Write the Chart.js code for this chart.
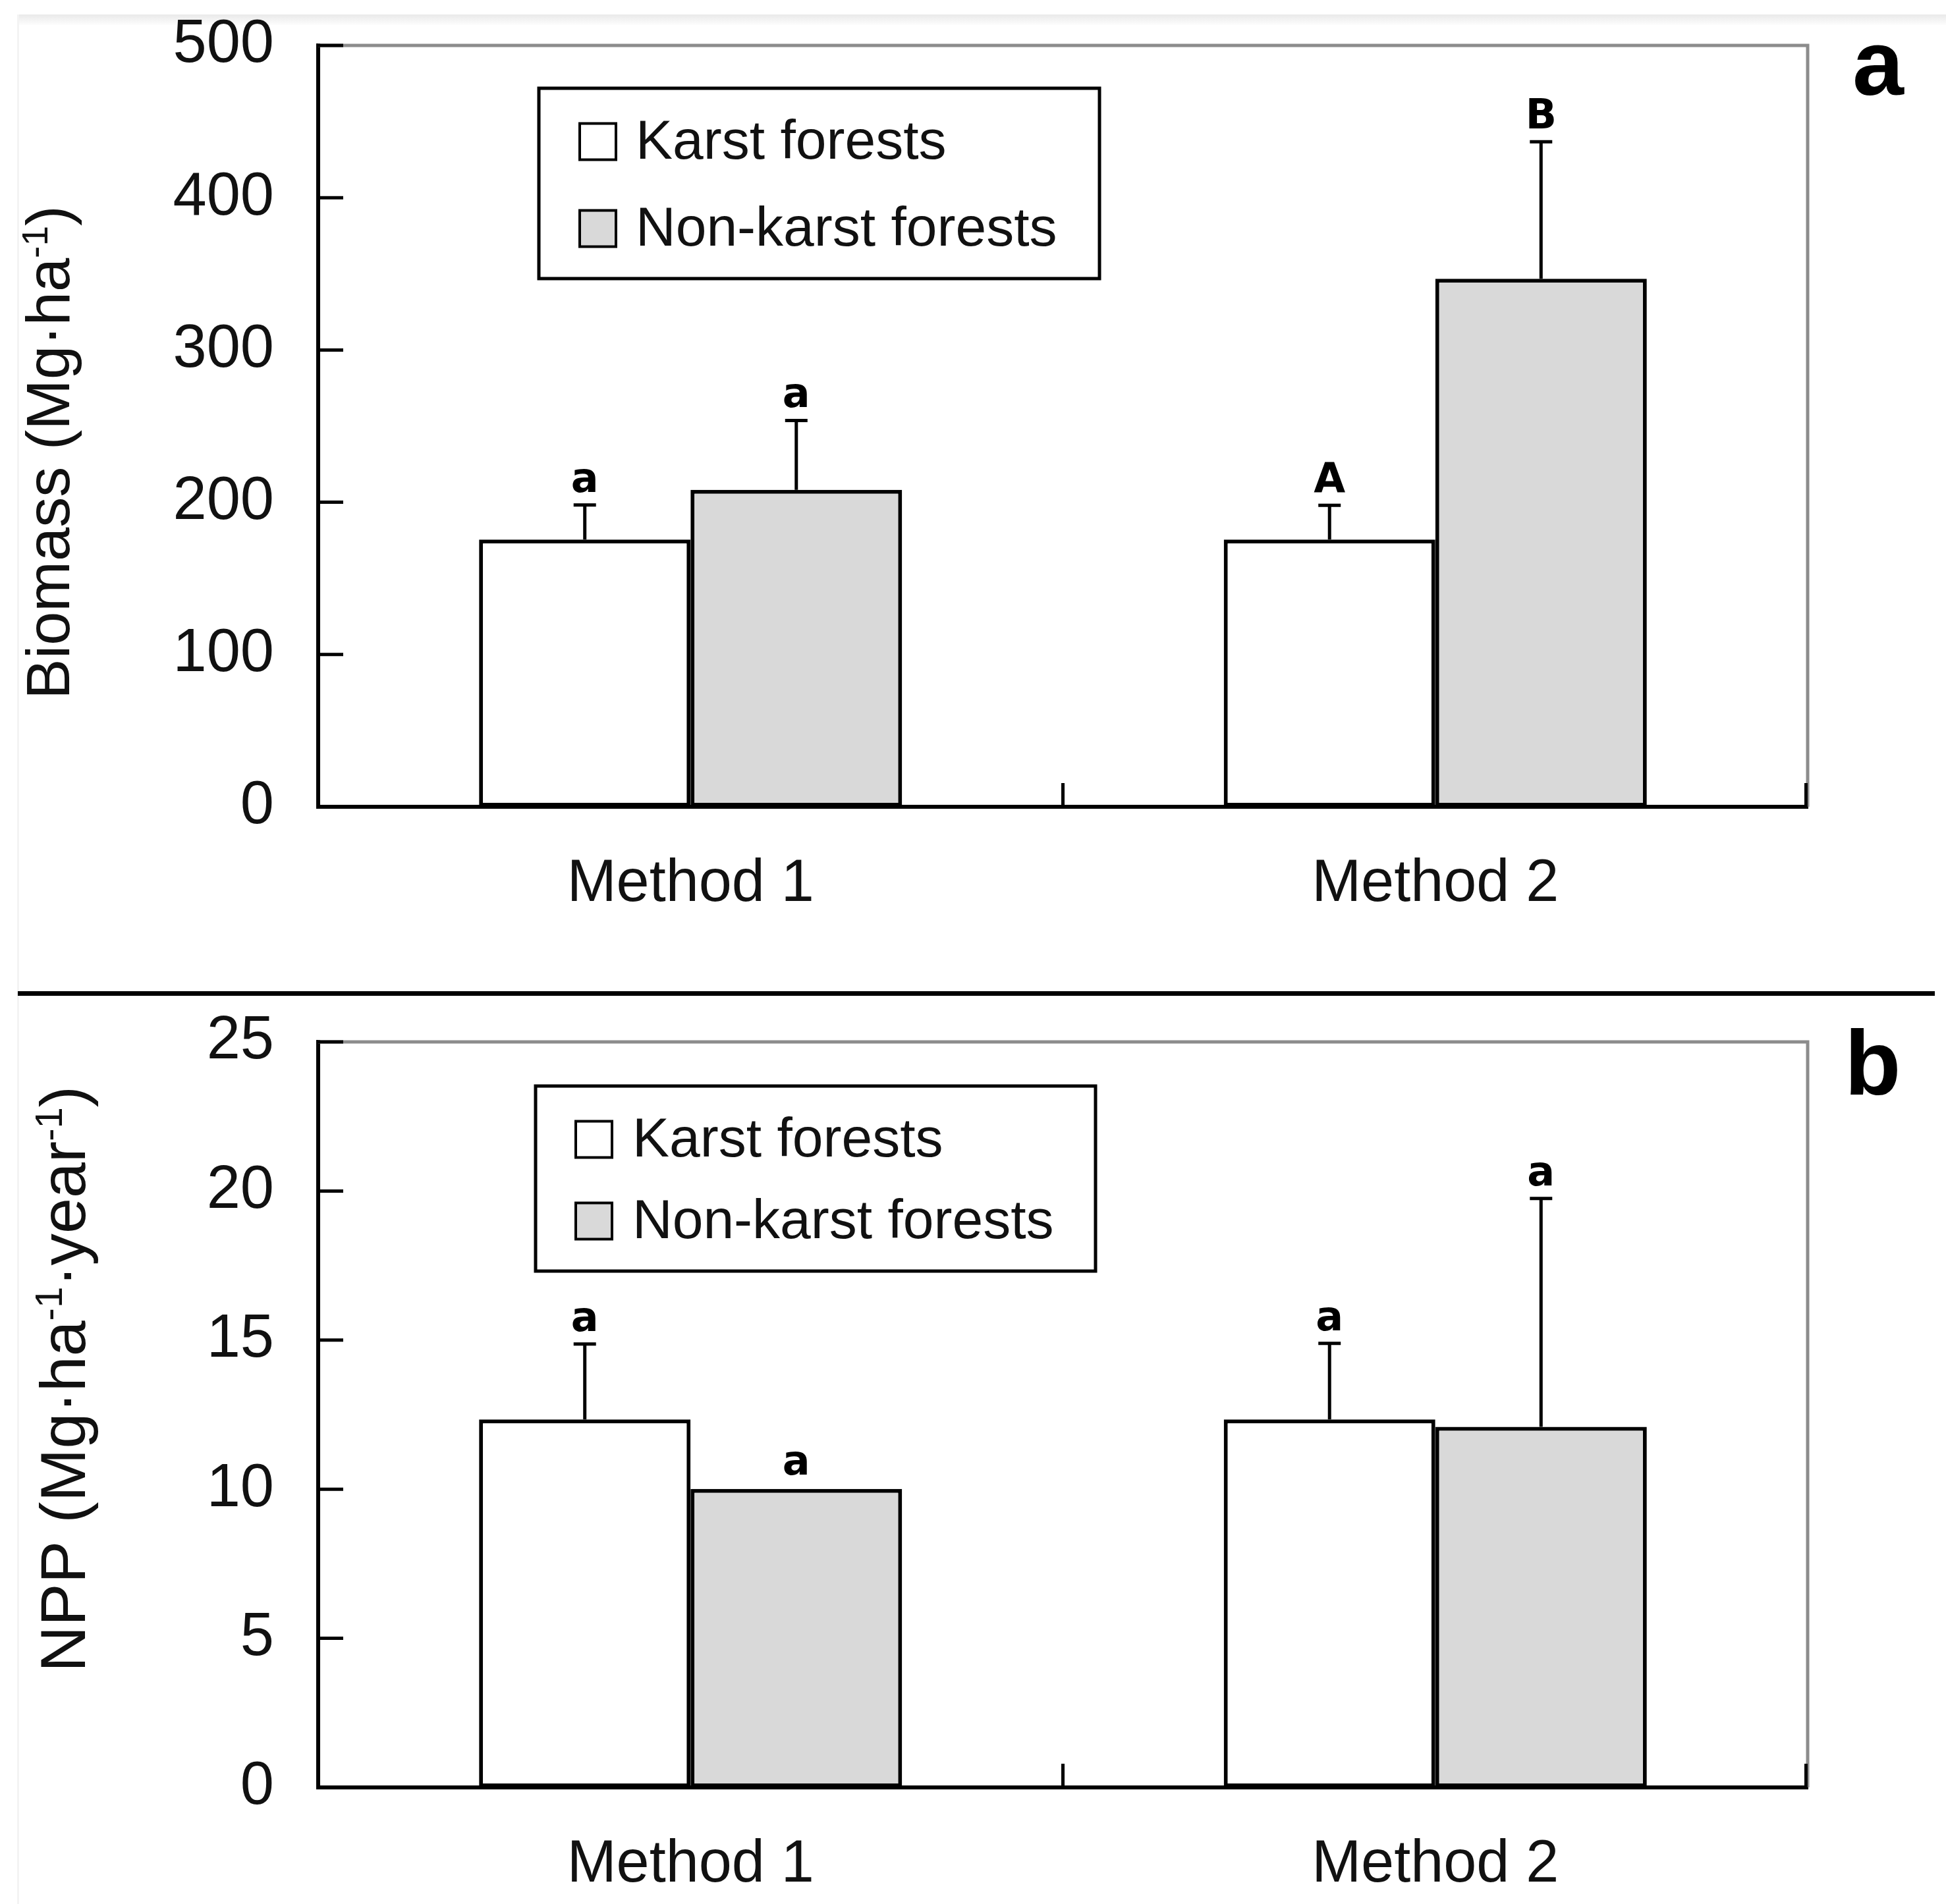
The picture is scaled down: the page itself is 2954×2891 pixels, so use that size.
<!DOCTYPE html>
<html><head><meta charset="utf-8">
<script src="https://cdn.jsdelivr.net/npm/chart.js@4.4.1/dist/chart.umd.min.js"></script>
<style>
html,body{margin:0;padding:0;background:#fff;width:2954px;height:2891px;overflow:hidden;position:relative}
canvas{position:absolute;left:0}
#ca{top:0}
#cb{top:1520px}
.sep{position:absolute;left:27px;top:1505px;width:2910px;height:7px;background:#000}
.shade{position:absolute;left:26px;top:22px;width:2928px;height:16px;background:linear-gradient(#e9e9e9,#fdfdfd)}
.lshade{position:absolute;left:26px;top:22px;width:3px;height:2869px;background:#f3f3f3}
</style></head><body>
<div class="shade"></div><div class="lshade"></div>
<canvas id="ca" width="2954" height="1500" style="width:2954px;height:1500px"></canvas>
<div class="sep"></div>
<canvas id="cb" width="2954" height="1371" style="width:2954px;height:1371px"></canvas>
<script>
// ---------- data ----------
const categories = ['Method 1', 'Method 2'];
const seriesNames = ['Karst forests', 'Non-karst forests'];

const biomassKarst = [175.5, 175.5];
const biomassKarstSD = [22.7, 22.5];
const biomassNonKarst = [208.2, 346.8];
const biomassNonKarstSD = [45.5, 89.9];
const biomassKarstLetters = ['a', 'A'];
const biomassNonKarstLetters = ['a', 'B'];
const biomassTicks = [0, 100, 200, 300, 400, 500];
const biomassTitle = [['Biomass (Mg\u00B7ha', 0], ['-1', 1], [')', 0]];

const nppKarst = [12.34, 12.34];
const nppKarstSD = [2.53, 2.55];
const nppNonKarst = [10.01, 12.09];
const nppNonKarstSD = [0, 7.66];
const nppKarstLetters = ['a', 'a'];
const nppNonKarstLetters = ['a', 'a'];
const nppTicks = [0, 5, 10, 15, 20, 25];
const nppTitle = [['NPP (Mg\u00B7ha', 0], ['-1', 1], ['\u00B7year', 0], ['-1', 1], [')', 0]];

// ---------- plugins ----------
const errorBarPlugin = {
  id: 'errorBars',
  afterDatasetsDraw(chart, args, o) {
    const ctx = chart.ctx, ys = chart.scales.y;
    chart.data.datasets.forEach((ds, i) => {
      chart.getDatasetMeta(i).data.forEach((bar, j) => {
        const sd = ds.sd[j] || 0;
        const yTop = ys.getPixelForValue(ds.data[j] + sd);
        ctx.save();
        ctx.strokeStyle = '#000';
        ctx.lineWidth = o.lineWidth;
        if (sd > 0) {
          ctx.beginPath();
          ctx.moveTo(bar.x, bar.y); ctx.lineTo(bar.x, yTop);
          ctx.moveTo(bar.x - o.cap / 2, yTop); ctx.lineTo(bar.x + o.cap / 2, yTop);
          ctx.stroke();
        }
        ctx.font = o.font; ctx.fillStyle = '#000';
        ctx.textAlign = 'center'; ctx.textBaseline = 'alphabetic';
        ctx.fillText(ds.letters[j], bar.x, yTop - (sd > 0 ? o.gap : o.gapNoBar));
        ctx.restore();
      });
    });
  }
};

const framePlugin = {
  id: 'frame',
  afterDatasetsDraw(chart, args, o) {
    const ctx = chart.ctx, a = chart.chartArea, x = chart.scales.x, y = chart.scales.y;
    ctx.save();
    ctx.strokeStyle = o.edgeColor; ctx.lineWidth = o.edgeWidth;
    ctx.beginPath();
    ctx.moveTo(a.left, a.top); ctx.lineTo(a.right, a.top); ctx.lineTo(a.right, a.bottom);
    ctx.stroke();
    ctx.strokeStyle = '#000'; ctx.lineWidth = o.tickWidth;
    ctx.beginPath();
    y.ticks.forEach(t => {
      const py = y.getPixelForValue(t.value);
      ctx.moveTo(a.left, py); ctx.lineTo(a.left + o.tickLen, py);
    });
    for (let k = 0; k < categories.length - 1; k++) {
      const px = (x.getPixelForValue(k) + x.getPixelForValue(k + 1)) / 2;
      ctx.moveTo(px, a.bottom); ctx.lineTo(px, a.bottom - o.xTickLen);
    }
    ctx.moveTo(a.right - o.tickWidth / 2, a.bottom); ctx.lineTo(a.right - o.tickWidth / 2, a.bottom - o.xTickLen);
    ctx.stroke();
    ctx.restore();
  }
};

const boxLegendPlugin = {
  id: 'boxLegend',
  afterDraw(chart, args, o) {
    const ctx = chart.ctx;
    ctx.save();
    ctx.strokeStyle = '#000'; ctx.lineWidth = o.borderWidth;
    ctx.strokeRect(o.left, o.top, o.right - o.left, o.bottom - o.top);
    ctx.font = o.font;
    chart.data.datasets.forEach((ds, i) => {
      const cy = o.rows[i];
      const sy = cy + o.boxShift - o.box / 2;
      ctx.fillStyle = ds.backgroundColor;
      ctx.fillRect(o.boxX, sy, o.box, o.box);
      ctx.lineWidth = o.boxBorder; ctx.strokeStyle = '#000';
      ctx.strokeRect(o.boxX, sy, o.box, o.box);
      ctx.fillStyle = o.color; ctx.textAlign = 'left'; ctx.textBaseline = 'alphabetic';
      ctx.fillText(ds.label, o.textX, cy + o.size * 0.358);
    });
    ctx.restore();
  }
};

const panelLetterPlugin = {
  id: 'panelLetter',
  afterDraw(chart, args, o) {
    const ctx = chart.ctx;
    ctx.save();
    ctx.font = o.font; ctx.fillStyle = '#000';
    ctx.textAlign = 'left'; ctx.textBaseline = 'alphabetic';
    ctx.fillText(o.text, o.x, o.y);
    ctx.restore();
  }
};

const yTitlePlugin = {
  id: 'yTitle',
  afterDraw(chart, args, o) {
    const ctx = chart.ctx;
    const fontFor = s => (s ? Math.round(o.size * 0.6) : o.size) + 'px ' + o.family;
    ctx.save();
    let total = 0;
    o.parts.forEach(p => { ctx.font = fontFor(p[1]); total += ctx.measureText(p[0]).width; });
    ctx.translate(o.x, o.y);
    ctx.rotate(-Math.PI / 2);
    ctx.fillStyle = o.color; ctx.textAlign = 'left'; ctx.textBaseline = 'alphabetic';
    let cx = -total / 2;
    const base = o.size * 0.358;
    o.parts.forEach(p => {
      ctx.font = fontFor(p[1]);
      ctx.fillText(p[0], cx, base - (p[1] ? o.size * 0.36 : 0));
      cx += ctx.measureText(p[0]).width;
    });
    ctx.restore();
  }
};

// ---------- chart builder ----------
function makeChart(id, cfg) {
  const karstFill = '#ffffff', nonKarstFill = '#d9d9d9';
  return new Chart(document.getElementById(id), {
    type: 'bar',
    data: {
      labels: categories,
      datasets: [
        { label: seriesNames[0], data: cfg.karst, sd: cfg.karstSD, letters: cfg.karstLetters,
          backgroundColor: karstFill, borderColor: '#000', borderWidth: 6, borderSkipped: false },
        { label: seriesNames[1], data: cfg.nonKarst, sd: cfg.nonKarstSD, letters: cfg.nonKarstLetters,
          backgroundColor: nonKarstFill, borderColor: '#000', borderWidth: 6, borderSkipped: false }
      ]
    },
    options: {
      responsive: false, animation: false, devicePixelRatio: 1, events: [],
      categoryPercentage: 0.568, barPercentage: 1.0,
      layout: { autoPadding: false, padding: { top: cfg.top, right: 210, left: 0, bottom: 0 } },
      scales: {
        x: {
          grid: { display: false, drawTicks: false },
          border: { display: true, color: '#000', width: 6 },
          ticks: { color: '#111', padding: 64, maxRotation: 0, font: { family: 'Liberation Sans', size: 90 } },
          afterFit: s => { s.height = cfg.xHeight; s.paddingLeft = 0; s.paddingRight = 0; }
        },
        y: {
          min: cfg.ticks[0], max: cfg.ticks[cfg.ticks.length - 1],
          grid: { display: false, drawTicks: false },
          border: { display: true, color: '#000', width: 6 },
          ticks: { color: '#111', padding: 67, font: { family: 'Liberation Sans', size: 92 } },
          afterBuildTicks: s => { s.ticks = cfg.ticks.map(v => ({ value: v })); },
          afterFit: s => { s.width = 483; s.paddingTop = 0; s.paddingBottom = 0; }
        }
      },
      plugins: {
        legend: { display: false },
        tooltip: { enabled: false },
        errorBars: { lineWidth: 5, cap: 34, gap: 20, gapNoBar: 22, font: "bold 62px 'DejaVu Sans'" },
        frame: { edgeColor: '#8c8c8c', edgeWidth: 5, tickWidth: 5, tickLen: 38, xTickLen: 36 },
        boxLegend: Object.assign({ borderWidth: 5, box: 55, boxShift: 4, boxBorder: 4,
          font: "84px 'Liberation Sans'", size: 84, color: '#111' }, cfg.legend),
        panelLetter: cfg.letter,
        yTitle: { parts: cfg.title, x: cfg.titleX, y: cfg.titleY, size: cfg.titleSize, family: "'Liberation Sans'", color: '#111' }
      }
    },
    plugins: [errorBarPlugin, framePlugin, boxLegendPlugin, panelLetterPlugin, yTitlePlugin]
  });
}

makeChart('ca', {
  karst: biomassKarst, karstSD: biomassKarstSD, karstLetters: biomassKarstLetters,
  nonKarst: biomassNonKarst, nonKarstSD: biomassNonKarstSD, nonKarstLetters: biomassNonKarstLetters,
  ticks: biomassTicks, title: biomassTitle, titleX: 72, titleY: 687, titleSize: 92,
  top: 69, xHeight: 275,
  legend: { left: 818, top: 134, right: 1669, bottom: 423, boxX: 880, textX: 965, rows: [211, 343] },
  letter: { text: 'a', x: 2812, y: 144, font: "bold 140px 'Liberation Sans'" }
});

makeChart('cb', {
  karst: nppKarst, karstSD: nppKarstSD, karstLetters: nppKarstLetters,
  nonKarst: nppNonKarst, nonKarstSD: nppNonKarstSD, nonKarstLetters: nppNonKarstLetters,
  ticks: nppTicks, title: nppTitle, titleX: 94, titleY: 574, titleSize: 97,
  top: 62, xHeight: 177,
  legend: { left: 813, top: 129, right: 1663, bottom: 410, boxX: 874, textX: 960, rows: [206, 330] },
  letter: { text: 'b', x: 2800, y: 142, font: "bold 140px 'Liberation Sans'" }
});
</script>
</body></html>
